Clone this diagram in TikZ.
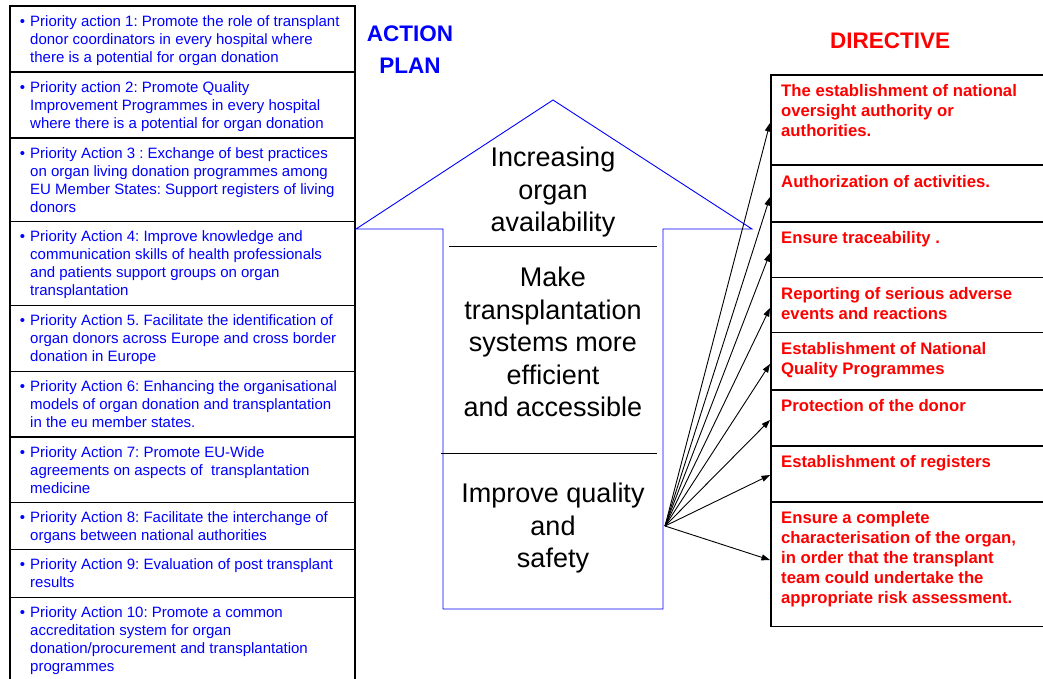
\documentclass[tikz,border=0pt]{standalone}
\usepackage{fontspec}
\setmainfont{Liberation Sans}
\usetikzlibrary{arrows.meta}
\definecolor{abl}{RGB}{0,0,255}
\definecolor{dred}{RGB}{255,0,0}
\frenchspacing
\begin{document}
\begin{tikzpicture}[x=1pt,y=-1pt,
  lbox/.style={draw=black,line width=1.5pt,minimum width=345pt,anchor=north west,inner sep=0pt},
  rbox/.style={draw=black,line width=1.5pt,minimum width=290pt,anchor=north west,inner sep=0pt},
  ltext/.style={anchor=north west,inner sep=0pt,align=left,text=abl,font=\fontsize{15}{18}\selectfont},
  rtext/.style={anchor=north west,inner sep=0pt,align=left,text=dred,font=\fontsize{16.7}{20}\selectfont\bfseries},
  ctext/.style={anchor=north,inner sep=0pt,align=center,text=black,font=\fontsize{27}{32.5}\selectfont},
  ttl/.style={anchor=north,inner sep=0pt,align=center,font=\fontsize{22.5}{31.6}\selectfont\bfseries},
  arr/.style={draw=black,line width=0.9pt,-{Triangle[length=8.5pt,width=6pt]}},
  divl/.style={draw=black,line width=0.8pt}]
\useasboundingbox (0,0) rectangle (1043,678);
\clip (0,0) rectangle (1043,678);
\newcommand{\bul}{\llap{\textbullet\hspace{5pt}}\strut}
% left boxes
\node[lbox,minimum height=66pt] (l1) at (9,5) {};
\node[lbox,minimum height=66pt] (l2) at (9,71) {};
\node[lbox,minimum height=83.7pt] (l3) at (9,137) {};
\node[lbox,minimum height=84pt] (l4) at (9,220.7) {};
\node[lbox,minimum height=66pt] (l5) at (9,304.7) {};
\node[lbox,minimum height=65.3pt] (l6) at (9,370.7) {};
\node[lbox,minimum height=65.7pt] (l7) at (9,436) {};
\node[lbox,minimum height=47pt] (l8) at (9,501.7) {};
\node[lbox,minimum height=48pt] (l9) at (9,548.7) {};
\node[lbox,minimum height=110pt] (l10) at (9,596.7) {};
% left texts
\node[ltext] (t1) at (30,13.4) {\bul Priority action 1: Promote the role of transplant\\donor coordinators in every hospital where\\there is a potential for organ donation};
\node[ltext] (t2) at (30,79.4) {\bul Priority action 2: Promote Quality\\Improvement Programmes in every hospital\\where there is a potential for organ donation};
\node[ltext] (t3) at (30,145.4) {\bul Priority Action 3 : Exchange of best practices\\on organ living donation programmes among\\EU Member States: Support registers of living\\donors};
\node[ltext] (t4) at (30,229.1) {\bul Priority Action 4: Improve knowledge and\\communication skills of health professionals\\and patients support groups on organ\\transplantation};
\node[ltext] (t5) at (30,313.1) {\bul Priority Action 5. Facilitate the identification of\\organ donors across Europe and cross border\\donation in Europe};
\node[ltext] (t6) at (30,379.1) {\bul Priority Action 6: Enhancing the organisational\\models of organ donation and transplantation\\in the eu member states.};
\node[ltext] (t7) at (30,444.4) {\bul Priority Action 7: Promote EU-Wide\\agreements on aspects of\ \ transplantation\\medicine};
\node[ltext] (t8) at (30,510.1) {\bul Priority Action 8: Facilitate the interchange of\\organs between national authorities};
\node[ltext] (t9) at (30,557.1) {\bul Priority Action 9: Evaluation of post transplant\\results};
\node[ltext] (t10) at (30,605.1) {\bul Priority Action 10: Promote a common\\accreditation system for organ\\donation/procurement and transplantation\\programmes};
% titles
\node[ttl,text=abl] (ap) at (410,19.4) {\strut ACTION\\PLAN};
\node[ttl,text=dred] (dir) at (890,26.2) {\strut DIRECTIVE};
% right boxes
\node[rbox,minimum height=90.3pt] (r1) at (770,74) {};
\node[rbox,minimum height=56.7pt] (r2) at (770,164.3) {};
\node[rbox,minimum height=55.7pt] (r3) at (770,221) {};
\node[rbox,minimum height=55pt] (r4) at (770,276.7) {};
\node[rbox,minimum height=57.3pt] (r5) at (770,331.7) {};
\node[rbox,minimum height=56pt] (r6) at (770,389) {};
\node[rbox,minimum height=56pt] (r7) at (770,445) {};
\node[rbox,minimum height=124.7pt] (r8) at (770,501) {};
% right texts
\node[rtext] (s1) at (781,82.5) {\strut The establishment of national\\oversight authority or\\authorities.};
\node[rtext] (s2) at (781,172.8) {\strut Authorization of activities.};
\node[rtext] (s3) at (781,229.5) {\strut Ensure traceability .};
\node[rtext] (s4) at (781,285.2) {\strut Reporting of serious adverse\\events and reactions};
\node[rtext] (s5) at (781,340.2) {\strut Establishment of National\\Quality Programmes};
\node[rtext] (s6) at (781,397.5) {\strut Protection of the donor};
\node[rtext] (s7) at (781,453.5) {\strut Establishment of registers};
\node[rtext] (s8) at (781,509.5) {\strut Ensure a complete\\characterisation of the organ,\\in order that the transplant\\team could undertake the\\appropriate risk assessment.};
% big arrow
\draw[abl,line width=0.9pt] (443,609) -- (443,229) -- (356,229) -- (553,100) -- (752,229) -- (663,229) -- (663,609) -- cycle;
\draw[divl] (449,246) -- (657,246);
\draw[divl] (441,453) -- (657,453);
\node[ctext] (c1) at (553,143.9) {\strut Increasing\\organ\\availability};
\node[ctext] (c2) at (553,263.9) {\strut Make\\transplantation\\systems more\\efficient\\and accessible};
\node[ctext] (c3) at (553,479.6) {\strut Improve quality\\and\\safety};
% fan of arrows
\coordinate (fan) at (665,526);
\coordinate (e1) at (r1.west |- 0,123);
\coordinate (e2) at (r2.west |- 0,197);
\coordinate (e3) at (r3.west |- 0,253);
\coordinate (e4) at (r4.west |- 0,308);
\coordinate (e5) at (r5.west |- 0,364);
\coordinate (e6) at (r6.west |- 0,420);
\coordinate (e7) at (r7.west |- 0,475);
\coordinate (e8) at (r8.west |- 0,560);
\foreach \i in {1,...,8} \draw[arr] (fan) -- (e\i);
\end{tikzpicture}
\end{document}
